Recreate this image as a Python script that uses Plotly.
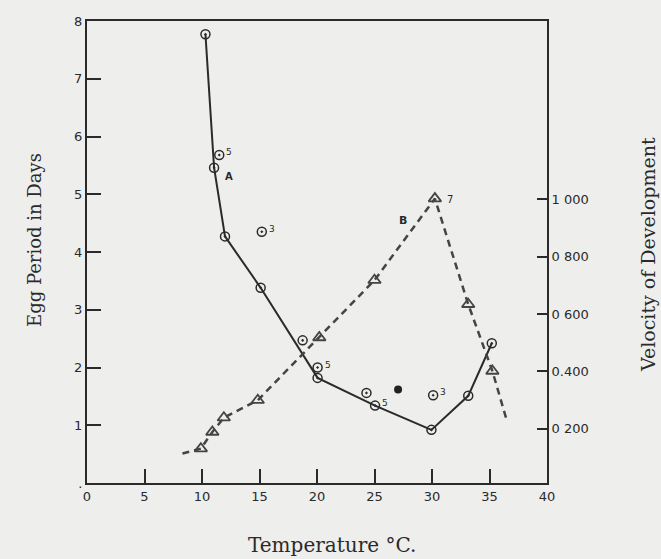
import plotly.graph_objects as go

# ---- Curve A: egg period (days) vs temperature (°C) ----
a_temp = [10.3, 11.05, 12.0, 15.1, 20.05, 25.05, 29.95, 33.15, 35.2]
a_days = [7.77, 5.46, 4.27, 3.38, 1.82, 1.34, 0.92, 1.51, 2.42]

# isolated observations (egg period)
obs_temp = [11.5, 15.2, 18.75, 20.05, 24.3, 30.1]
obs_days = [5.68, 4.35, 2.47, 2.0, 1.56, 1.52]

# solid observation
solid_temp = [27.05]
solid_days = [1.62]

# small count labels next to points
lab_temp = [11.5, 15.2, 20.05, 25.05, 30.1]
lab_days = [5.68, 4.35, 2.0, 1.34, 1.52]
lab_text = ["5", "3", "5", "5", "3"]

# ---- Curve B: velocity of development ----
b_temp = [9.9, 10.9, 11.9, 14.85, 20.2, 25.0, 30.25, 33.15, 35.25]
b_vel = [0.130, 0.188, 0.238, 0.299, 0.518, 0.718, 1.003, 0.634, 0.401]
b_line_temp = [8.3] + b_temp + [36.5]
b_line_vel = [0.113] + b_vel + [0.229]
b_peak_label = "7"

# ---- axes ----
x_ticks = [0, 5, 10, 15, 20, 25, 30, 35, 40]
y_ticks = [0, 1, 2, 3, 4, 5, 6, 7, 8]
y_ticktext = [".", "1", "2", "3", "4", "5", "6", "7", "8"]
y2_ticks = [0.2, 0.4, 0.6, 0.8, 1.0]
y2_ticktext = ["0 200", "0.400", "0 600", "0 800", "1 000"]

INK = "#2a2a2a"
PAPER = "#eeeeec"
tickfont = dict(family="DejaVu Sans", size=13, color=INK)

fig = go.Figure()

fig.add_trace(go.Scatter(
    x=a_temp, y=a_days, mode="lines+markers",
    line=dict(color=INK, width=2),
    marker=dict(symbol="circle-open-dot", size=9, color=INK, line=dict(width=1.5)),
    showlegend=False))

fig.add_trace(go.Scatter(
    x=obs_temp, y=obs_days, mode="markers",
    marker=dict(symbol="circle-open-dot", size=9, color=INK, line=dict(width=1.5)),
    showlegend=False))

fig.add_trace(go.Scatter(
    x=solid_temp, y=solid_days, mode="markers",
    marker=dict(symbol="circle", size=8, color="#222222"),
    showlegend=False))

fig.add_trace(go.Scatter(
    x=b_line_temp, y=b_line_vel, mode="lines", yaxis="y2",
    line=dict(color="#444444", width=2.5, dash="7px,5px"),
    showlegend=False))

fig.add_trace(go.Scatter(
    x=b_temp, y=b_vel, mode="markers", yaxis="y2",
    marker=dict(symbol="triangle-up-open", size=11, color="#444444", line=dict(width=1.8)),
    showlegend=False))

annotations = []
for t, d, s in zip(lab_temp, lab_days, lab_text):
    annotations.append(dict(x=t, y=d, text=s, showarrow=False, xshift=10, yshift=3,
                            font=dict(family="DejaVu Sans", size=9, color=INK)))
annotations.append(dict(x=b_temp[6], y=b_vel[6], yref="y2", text=b_peak_label, showarrow=False,
                        xshift=15, yshift=-1, font=dict(family="DejaVu Sans", size=10, color=INK)))
annotations.append(dict(x=12.35, y=5.30, text="<b>A</b>", showarrow=False,
                        font=dict(family="DejaVu Sans", size=10, color=INK)))
annotations.append(dict(x=27.5, y=4.55, text="<b>B</b>", showarrow=False,
                        font=dict(family="DejaVu Sans", size=11, color=INK)))
annotations.append(dict(xref="paper", yref="paper", x=-0.113, y=0.526, text="Egg Period in Days",
                        textangle=-90, showarrow=False, xanchor="center", yanchor="middle",
                        font=dict(family="DejaVu Serif", size=18, color=INK)))
annotations.append(dict(xref="paper", yref="paper", x=1.218, y=0.494, text="Velocity of Development",
                        textangle=-90, showarrow=False, xanchor="center", yanchor="middle",
                        font=dict(family="DejaVu Serif", size=19, color=INK)))
annotations.append(dict(xref="paper", yref="paper", x=0.533, y=-0.134, text="Temperature °C.",
                        showarrow=False, xanchor="center", yanchor="middle",
                        font=dict(family="DejaVu Serif", size=20, color=INK)))

fig.update_layout(
    width=661, height=559,
    margin=dict(l=87, r=114, t=21, b=76, autoexpand=False),
    paper_bgcolor=PAPER, plot_bgcolor=PAPER,
    showlegend=False,
    annotations=annotations,
    xaxis=dict(range=[0, 40], tickvals=x_ticks, ticks="inside", ticklen=14, tickwidth=2,
               tickcolor=INK, showline=True, linecolor=INK, linewidth=2, mirror=True,
               showgrid=False, zeroline=False, tickfont=tickfont),
    yaxis=dict(range=[0, 8], tickvals=y_ticks, ticktext=y_ticktext, ticks="inside", ticklen=14,
               tickwidth=2, tickcolor=INK, showline=True, linecolor=INK, linewidth=2,
               showgrid=False, zeroline=False, tickfont=tickfont),
    yaxis2=dict(range=[0.01, 1.623], overlaying="y", side="right", tickvals=y2_ticks,
                ticktext=y2_ticktext, ticks="inside", ticklen=10, tickwidth=2, tickcolor=INK,
                showline=True, linecolor=INK, linewidth=2, showgrid=False, zeroline=False,
                tickfont=tickfont),
)

fig.write_html(
    "out.html",
    config={"displayModeBar": False},
    post_script="document.body.style.margin='0';document.body.style.background='#eeeeec';",
)
